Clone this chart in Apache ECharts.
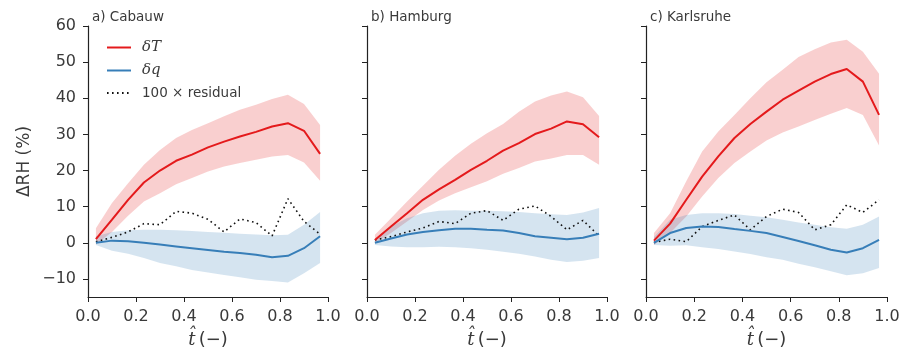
<!DOCTYPE html>
<html>
<head>
<meta charset="utf-8">
<script src="https://cdn.jsdelivr.net/npm/echarts@6/dist/echarts.min.js"></script>
<style>html,body{margin:0;padding:0;background:#fff}#c{width:908px;height:361px}</style>
</head>
<body>
<div id="c"></div>
<script>
// ---- data ----
const xs = [0.033, 0.1, 0.167, 0.233, 0.3, 0.367, 0.433, 0.5, 0.567, 0.633, 0.7, 0.767, 0.833, 0.9, 0.967];
const xTicks = [0, 0.2, 0.4, 0.6, 0.8, 1.0];
const yTicks = [-10, 0, 10, 20, 30, 40, 50, 60];
const panelTitles = ['a) Cabauw', 'b) Hamburg', 'c) Karlsruhe'];
const seriesNames = ['δT', 'δq', '100 × residual'];

// a) Cabauw
const cabauwT      = [1.0, 6.4, 11.9, 16.7, 20.0, 22.7, 24.4, 26.4, 28.0, 29.4, 30.7, 32.2, 33.1, 31.0, 24.6];
const cabauwTHi    = [4.0, 11.0, 16.5, 21.6, 25.7, 29.0, 31.2, 33.1, 35.0, 36.8, 38.2, 39.8, 41.0, 38.4, 32.6];
const cabauwTLo    = [-0.5, 3.0, 7.5, 11.4, 13.7, 16.2, 17.9, 19.7, 21.1, 22.1, 23.0, 23.9, 24.3, 22.2, 17.2];
const cabauwQ      = [0.0, 0.6, 0.4, 0.0, -0.5, -1.0, -1.5, -2.0, -2.5, -2.8, -3.3, -4.0, -3.6, -1.5, 1.8];
const cabauwQHi    = [1.8, 3.0, 3.5, 3.6, 3.6, 3.5, 3.3, 3.0, 2.8, 2.5, 2.3, 2.1, 2.2, 5.0, 8.5];
const cabauwQLo    = [-0.6, -2.2, -3.0, -4.2, -5.6, -6.5, -7.5, -8.2, -8.9, -9.5, -10.2, -10.6, -11.0, -8.4, -5.6];
const cabauwRes    = [0.3, 1.5, 3.0, 5.3, 5.0, 8.7, 8.2, 6.5, 3.0, 6.6, 5.6, 1.9, 12.2, 5.9, 2.4];

// b) Hamburg
const hamburgT     = [0.8, 4.5, 8.2, 11.9, 14.8, 17.4, 20.2, 22.7, 25.5, 27.6, 30.1, 31.6, 33.6, 32.8, 29.2];
const hamburgTHi   = [2.2, 6.8, 11.4, 15.8, 20.2, 24.1, 27.4, 30.3, 32.9, 36.3, 39.1, 40.8, 41.9, 40.3, 35.1];
const hamburgTLo   = [-0.1, 2.7, 5.9, 9.1, 11.7, 13.7, 15.4, 17.0, 19.1, 20.7, 22.5, 23.3, 24.3, 24.3, 21.6];
const hamburgQ     = [0.0, 1.2, 2.3, 3.0, 3.5, 3.9, 3.9, 3.6, 3.4, 2.7, 1.8, 1.4, 1.0, 1.4, 2.5];
const hamburgQHi   = [1.0, 4.5, 6.8, 8.2, 8.9, 9.0, 8.9, 8.9, 8.7, 8.5, 8.2, 7.9, 7.7, 8.4, 9.6];
const hamburgQLo   = [-0.6, -1.0, -1.2, -1.2, -1.1, -1.2, -1.5, -1.9, -2.5, -3.0, -3.8, -4.7, -5.3, -5.0, -4.2];
const hamburgRes   = [0.8, 1.7, 3.0, 4.1, 5.9, 5.3, 8.2, 8.9, 6.2, 9.3, 10.2, 7.3, 3.6, 6.2, 1.9];

// c) Karlsruhe
const karlsruheT   = [0.6, 5.3, 11.9, 18.3, 23.9, 29.0, 32.9, 36.3, 39.6, 42.1, 44.6, 46.7, 48.1, 44.6, 35.4];
const karlsruheTHi = [2.7, 8.2, 17.0, 25.3, 30.8, 35.4, 40.0, 44.4, 47.9, 51.4, 53.6, 55.4, 56.2, 52.9, 46.8];
const karlsruheTLo = [-0.6, 2.7, 7.3, 12.8, 17.9, 22.1, 25.3, 28.3, 30.5, 32.2, 34.0, 35.7, 37.3, 35.4, 26.9];
const karlsruheQ   = [0.0, 2.7, 4.1, 4.5, 4.4, 3.8, 3.3, 2.7, 1.6, 0.5, -0.7, -1.9, -2.7, -1.5, 0.8];
const karlsruheQHi = [1.6, 6.4, 7.7, 8.2, 8.2, 8.0, 7.5, 7.1, 6.4, 5.6, 5.0, 4.3, 3.9, 5.0, 7.3];
const karlsruheQLo = [-0.6, -0.8, -0.7, -1.2, -1.7, -2.4, -3.1, -4.0, -4.7, -5.8, -6.8, -7.9, -9.0, -8.4, -7.0];
const karlsruheRes = [0.1, 1.0, 0.3, 4.5, 6.2, 7.7, 3.6, 7.3, 9.3, 8.4, 3.6, 5.0, 10.5, 8.4, 11.9];

const panels = [
  {T: cabauwT, THi: cabauwTHi, TLo: cabauwTLo, Q: cabauwQ, QHi: cabauwQHi, QLo: cabauwQLo, R: cabauwRes},
  {T: hamburgT, THi: hamburgTHi, TLo: hamburgTLo, Q: hamburgQ, QHi: hamburgQHi, QLo: hamburgQLo, R: hamburgRes},
  {T: karlsruheT, THi: karlsruheTHi, TLo: karlsruheTLo, Q: karlsruheQ, QHi: karlsruheQHi, QLo: karlsruheQLo, R: karlsruheRes}
];

// ---- layout / style ----
const FONT = '"DejaVu Sans", sans-serif';
const SERIF = '"DejaVu Serif", serif';
const TXT = '#3a3a3a';
const RED = '#e41a1c', BLUE = '#377eb8';
const RED_BAND = 'rgba(228,26,28,0.21)', BLUE_BAND = 'rgba(55,126,184,0.21)';
const gridLefts = [88, 367, 646];
const gridWidths = [240, 240, 241];

const grids = [], xAxes = [], yAxes = [], series = [], titles = [];
const pair = (a, b) => a.map((v, i) => [v, b[i]]);

function bandSeries(k, hi, lo, color) {
  return {
    type: 'custom', xAxisIndex: k, yAxisIndex: k, silent: true, z: 1,
    data: pair(xs, hi),
    renderItem: function (params, api) {
      if (params.dataIndex !== 0) return null;
      const pts = [];
      for (let i = 0; i < xs.length; i++) pts.push(api.coord([xs[i], hi[i]]));
      for (let i = xs.length - 1; i >= 0; i--) pts.push(api.coord([xs[i], lo[i]]));
      return {type: 'polygon', shape: {points: pts}, style: {fill: color, stroke: null}};
    }
  };
}

panels.forEach((p, k) => {
  grids.push({left: gridLefts[k], width: gridWidths[k], top: 26, height: 271});
  titles.push({text: panelTitles[k], left: gridLefts[k] - 1, top: 5,
    textStyle: {fontFamily: FONT, fontSize: 13.5, fontWeight: 'normal', color: TXT}});
  xAxes.push({
    gridIndex: k, type: 'value', min: 0, max: 1, interval: 0.2,
    name: '{t|t\u0302} {n|(\u2212)}', nameLocation: 'middle', nameGap: 34,
    nameTextStyle: {rich: {
      t: {fontFamily: SERIF, fontStyle: 'italic', fontSize: 18, color: TXT},
      n: {fontFamily: FONT, fontSize: 18, color: TXT}
    }},
    axisLine: {onZero: false, lineStyle: {color: '#222', width: 1.2}},
    axisTick: {show: true, inside: false, length: 5, lineStyle: {color: '#222', width: 1}},
    axisLabel: {margin: 12, fontFamily: FONT, fontSize: 16, color: TXT,
      formatter: v => v.toFixed(1)},
    splitLine: {show: false}
  });
  yAxes.push({
    gridIndex: k, type: 'value', min: -15, max: 60,
    name: k === 0 ? 'ΔRH (%)' : '', nameLocation: 'middle', nameGap: 55,
    nameTextStyle: {fontFamily: FONT, fontSize: 17, color: TXT},
    axisLine: {show: true, onZero: false, lineStyle: {color: '#222', width: 1.2}},
    axisTick: {show: true, inside: false, length: 5, customValues: yTicks, lineStyle: {color: '#222', width: 1}},
    axisLabel: {show: k === 0, margin: 12, customValues: yTicks, fontFamily: FONT, fontSize: 16, color: TXT,
      formatter: v => (v < 0 ? '\u2212' + Math.abs(v) : String(v))},
    splitLine: {show: false}
  });
  series.push(bandSeries(k, p.THi, p.TLo, RED_BAND));
  series.push(bandSeries(k, p.QHi, p.QLo, BLUE_BAND));
  series.push({name: seriesNames[0], type: 'line', xAxisIndex: k, yAxisIndex: k, z: 3,
    data: pair(xs, p.T), symbol: 'none', lineStyle: {color: RED, width: 2}, itemStyle: {color: RED}});
  series.push({name: seriesNames[1], type: 'line', xAxisIndex: k, yAxisIndex: k, z: 3,
    data: pair(xs, p.Q), symbol: 'none', lineStyle: {color: BLUE, width: 2}, itemStyle: {color: BLUE}});
  series.push({name: seriesNames[2], type: 'line', xAxisIndex: k, yAxisIndex: k, z: 2,
    data: pair(xs, p.R), symbol: 'none', lineStyle: {color: '#111', width: 1.6, type: [1.6, 3.4]}, itemStyle: {color: '#111'}});
});

const chart = echarts.init(document.getElementById('c'), null, {renderer: 'canvas'});
chart.setOption({
  animation: false,
  backgroundColor: '#fff',
  title: titles,
  grid: grids,
  xAxis: xAxes,
  yAxis: yAxes,
  legend: {
    orient: 'vertical', left: 101, top: 35, itemWidth: 24, itemHeight: 14, itemGap: 8,
    selectedMode: false,
    itemStyle: {opacity: 0},
    textStyle: {fontFamily: FONT, fontSize: 13.5, color: TXT, padding: [0, 0, 0, 6]},
    data: [
      {name: seriesNames[0], textStyle: {fontFamily: SERIF, fontStyle: 'italic', fontSize: 15}},
      {name: seriesNames[1], textStyle: {fontFamily: SERIF, fontStyle: 'italic', fontSize: 15}},
      {name: seriesNames[2]}
    ]
  },
  series: series
});
</script>
</body>
</html>
